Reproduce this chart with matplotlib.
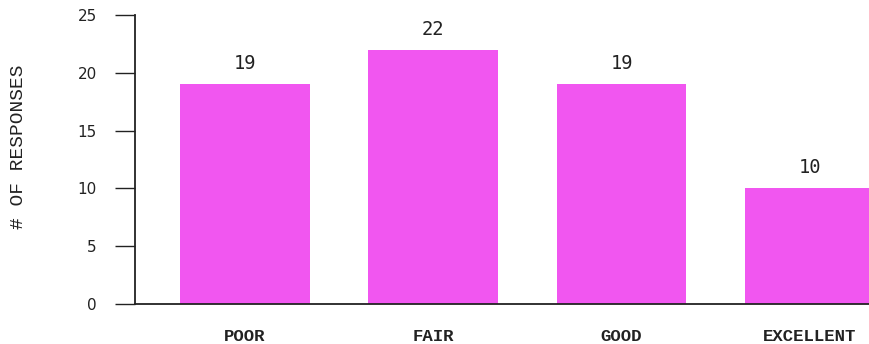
import matplotlib
matplotlib.use("Agg")
import matplotlib.pyplot as plt

categories = ["POOR", "FAIR", "GOOD", "EXCELLENT"]
responses = [19, 22, 19, 10]
y_ticks = [0, 5, 10, 15, 20, 25]

bar_color = "#F156F0"
ink = "#222222"

fig = plt.figure(figsize=(8.7, 3.44), dpi=100)
ax = fig.add_axes([135 / 870, 1 - 304 / 344, 1 - 135 / 870, 289 / 344])

x = list(range(len(categories)))
bars = ax.bar(x, responses, width=0.69, color=bar_color, zorder=2)

for rect, val in zip(bars, responses):
    ax.annotate(str(val), (rect.get_x() + rect.get_width() / 2, val),
                xytext=(0, 8), textcoords="offset points",
                ha="center", va="bottom", fontsize=13.5,
                family="DejaVu Sans Mono", color=ink)

ax.set_xlim(-0.585, 3.32)
ax.set_ylim(0, 25)
ax.set_yticks(y_ticks)
ax.set_yticklabels([str(t) for t in y_ticks], fontsize=11,
                   family="DejaVu Sans", color=ink)
ax.set_xticks(x)
ax.set_xticklabels(categories, fontsize=12.5, family="Liberation Mono",
                   fontweight="bold", color=ink)

for side in ("top", "right"):
    ax.spines[side].set_visible(False)
for side in ("left", "bottom"):
    ax.spines[side].set_color(ink)
    ax.spines[side].set_linewidth(1.3)

ax.tick_params(axis="y", direction="out", length=14.5, width=1.0,
               color=ink, pad=13)
ax.tick_params(axis="x", length=0, pad=18)

ax.set_ylabel("# OF RESPONSES", fontsize=14, family="Liberation Mono",
              color=ink, va="center")
ax.yaxis.set_label_coords(-0.159, 0.543)

fig.savefig("out.png", dpi=100)
